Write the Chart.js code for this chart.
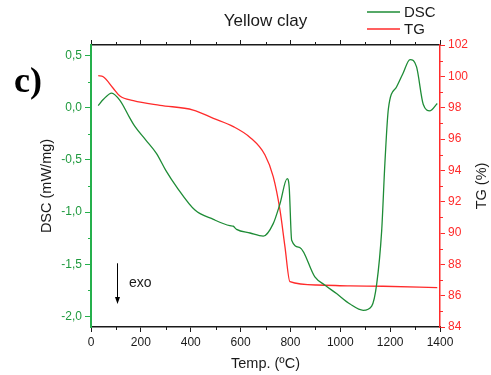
<!DOCTYPE html>
<html>
<head>
<meta charset="utf-8">
<script src="https://cdn.jsdelivr.net/npm/chart.js@4/dist/chart.umd.min.js"></script>
<style>
  html, body { margin: 0; padding: 0; background: #ffffff; }
  #wrap { width: 491px; height: 375px; position: relative; }
</style>
</head>
<body>
<div id="wrap"><canvas id="c" width="491" height="375"></canvas></div>
<script>
// ---- data ----
const chartTitle = 'Yellow clay';
const panelLabel = 'c)';
const seriesNames = ['DSC', 'TG'];

const dscTemp = [29, 50, 83, 116, 156, 176, 220, 263, 300, 344, 417, 491, 557, 570, 584, 638, 691, 731, 758, 787, 795, 805, 838, 898, 939, 985, 1039, 1092, 1126, 1146, 1166, 1179, 1193, 1226, 1250, 1280, 1306, 1333, 1360, 1389];
const dscValue = [0.02, 0.08, 0.14, 0.07, -0.10, -0.18, -0.31, -0.44, -0.60, -0.76, -0.98, -1.07, -1.13, -1.135, -1.165, -1.20, -1.23, -1.11, -0.92, -0.68, -0.76, -1.27, -1.34, -1.62, -1.70, -1.78, -1.88, -1.94, -1.90, -1.69, -1.18, -0.53, -0.01, 0.20, 0.32, 0.46, 0.39, 0.03, -0.03, 0.04];

const tgTemp = [29, 49, 89, 116, 170, 277, 410, 491, 571, 638, 698, 731, 758, 778, 798, 905, 1039, 1172, 1389];
const tgValue = [100.04, 99.97, 99.24, 98.74, 98.45, 98.15, 97.85, 97.32, 96.79, 96.10, 94.98, 93.60, 91.47, 89.13, 86.89, 86.68, 86.62, 86.60, 86.51];

const xTicks = [0, 200, 400, 600, 800, 1000, 1200, 1400];
const dscTicks = [-2.0, -1.5, -1.0, -0.5, 0.0, 0.5];
const tgTicks = [84, 86, 88, 90, 92, 94, 96, 98, 100, 102];

const xTitle = 'Temp. (ºC)';
const dscTitle = 'DSC (mW/mg)';
const tgTitle = 'TG (%)';
const exoLabel = 'exo';

// ---- styling ----
const GREEN_LINE = '#1e8c36';
const GREEN_AXIS = '#25b04c';
const GREEN_TEXT = '#1f9a3e';
const RED = '#ff2b2b';
const BLACK = '#1a1a1a';
const FONT = "'Liberation Sans', Arial, sans-serif";

Chart.defaults.font.family = FONT;

function toPts(xs, ys) { return xs.map((x, i) => ({ x: x, y: ys[i] })); }
function fmtComma(v) { return v.toFixed(1).replace('.', ','); }
function setTicks(arr) { return function (scale) { scale.ticks = arr.map(v => ({ value: v })); }; }
function mids(arr) { const m = []; for (let i = 0; i < arr.length - 1; i++) m.push((arr[i] + arr[i + 1]) / 2); return m; }

const decor = {
  id: 'decor',
  afterDraw(chart) {
    const ctx = chart.ctx;
    const { x, xTop, y, y2 } = chart.scales;
    const area = chart.chartArea;
    ctx.save();
    // minor ticks
    ctx.lineWidth = 1;
    ctx.strokeStyle = BLACK;
    mids(xTicks).forEach(v => {
      const px = Math.round(x.getPixelForValue(v)) + 0.5;
      ctx.beginPath(); ctx.moveTo(px, area.bottom); ctx.lineTo(px, area.bottom + 3); ctx.stroke();
      ctx.beginPath(); ctx.moveTo(px, area.top); ctx.lineTo(px, area.top - 3); ctx.stroke();
    });
    ctx.strokeStyle = GREEN_AXIS;
    mids(dscTicks).forEach(v => {
      const py = Math.round(y.getPixelForValue(v)) + 0.5;
      ctx.beginPath(); ctx.moveTo(area.left, py); ctx.lineTo(area.left - 3, py); ctx.stroke();
    });
    ctx.strokeStyle = RED;
    mids(tgTicks).forEach(v => {
      const py = Math.round(y2.getPixelForValue(v)) + 0.5;
      ctx.beginPath(); ctx.moveTo(area.right, py); ctx.lineTo(area.right + 3, py); ctx.stroke();
    });

    // title
    ctx.fillStyle = BLACK;
    ctx.font = '17px ' + FONT;
    ctx.textAlign = 'center';
    ctx.textBaseline = 'middle';
    ctx.fillText(chartTitle, (area.left + area.right) / 2, 21);

    // legend
    const colors = [GREEN_LINE, RED];
    ctx.font = '15px ' + FONT;
    ctx.textAlign = 'left';
    seriesNames.forEach((name, i) => {
      const ly = 12 + i * 17;
      ctx.strokeStyle = colors[i];
      ctx.lineWidth = 1.3;
      ctx.beginPath(); ctx.moveTo(367, ly); ctx.lineTo(400, ly); ctx.stroke();
      ctx.fillStyle = BLACK;
      ctx.fillText(name, 404, ly + 1);
    });

    // panel label
    ctx.font = 'bold 36px "Liberation Serif", "Times New Roman", serif';
    ctx.textAlign = 'left';
    ctx.textBaseline = 'alphabetic';
    ctx.fillStyle = '#000';
    ctx.fillText(panelLabel, 14, 92);

    // right axis title (reads bottom to top)
    ctx.save();
    ctx.translate(482, (area.top + area.bottom) / 2);
    ctx.rotate(-Math.PI / 2);
    ctx.font = '14.5px ' + FONT;
    ctx.textAlign = 'center';
    ctx.textBaseline = 'middle';
    ctx.fillStyle = BLACK;
    ctx.fillText(tgTitle, 0, 0);
    ctx.restore();

    // exo arrow
    const ax = Math.round(x.getPixelForValue(104)) + 0.5;
    const ay1 = y.getPixelForValue(-1.49);
    const ay2 = y.getPixelForValue(-1.88);
    ctx.strokeStyle = '#000';
    ctx.fillStyle = '#000';
    ctx.lineWidth = 1;
    ctx.beginPath(); ctx.moveTo(ax, ay1); ctx.lineTo(ax, ay2 - 6); ctx.stroke();
    ctx.beginPath(); ctx.moveTo(ax - 2.5, ay2 - 7); ctx.lineTo(ax + 2.5, ay2 - 7); ctx.lineTo(ax, ay2); ctx.closePath(); ctx.fill();
    ctx.font = '14px ' + FONT;
    ctx.textAlign = 'left';
    ctx.textBaseline = 'middle';
    ctx.fillStyle = BLACK;
    ctx.fillText(exoLabel, x.getPixelForValue(152), y.getPixelForValue(-1.68));
    ctx.restore();
  }
};

new Chart(document.getElementById('c'), {
  type: 'line',
  data: {
    datasets: [
      {
        label: seriesNames[0],
        data: toPts(dscTemp, dscValue),
        yAxisID: 'y',
        xAxisID: 'x',
        borderColor: GREEN_LINE,
        borderWidth: 1.3,
        pointRadius: 0,
        cubicInterpolationMode: 'monotone',
        fill: false
      },
      {
        label: seriesNames[1],
        data: toPts(tgTemp, tgValue),
        yAxisID: 'y2',
        xAxisID: 'x',
        borderColor: RED,
        borderWidth: 1.3,
        pointRadius: 0,
        cubicInterpolationMode: 'monotone',
        fill: false
      }
    ]
  },
  options: {
    responsive: false,
    animation: false,
    events: [],
    layout: { padding: { top: 40, left: 0, right: 0, bottom: 0 } },
    plugins: { legend: { display: false }, title: { display: false }, tooltip: { enabled: false } },
    scales: {
      x: {
        type: 'linear', position: 'bottom', min: 0, max: 1400,
        afterBuildTicks: setTicks(xTicks),
        afterFit: s => { s.height = 48; },
        border: { display: true, color: BLACK, width: 1.5 },
        grid: { display: true, drawOnChartArea: false, drawTicks: true, tickLength: 5, tickColor: BLACK, tickWidth: 1 },
        ticks: { color: BLACK, font: { size: 12 }, padding: 3, maxRotation: 0, autoSkip: false, callback: v => String(v) },
        title: { display: true, text: xTitle, color: BLACK, font: { size: 14.5 }, padding: { top: 0, bottom: 2 } }
      },
      xTop: {
        type: 'linear', position: 'top', min: 0, max: 1400,
        afterBuildTicks: setTicks(xTicks),
        afterFit: s => { s.height = 5; },
        border: { display: true, color: BLACK, width: 1.5 },
        grid: { display: true, drawOnChartArea: false, drawTicks: true, tickLength: 5, tickColor: BLACK, tickWidth: 1 },
        ticks: { display: false }
      },
      y: {
        type: 'linear', position: 'left', min: -2.1, max: 0.6,
        afterBuildTicks: setTicks(dscTicks),
        afterFit: s => { s.width = 91; },
        border: { display: true, color: GREEN_AXIS, width: 2 },
        grid: { display: true, drawOnChartArea: false, drawTicks: true, tickLength: 6, tickColor: GREEN_AXIS, tickWidth: 1 },
        ticks: { color: GREEN_TEXT, font: { size: 12 }, padding: 3, callback: v => fmtComma(v) },
        title: { display: true, text: dscTitle, color: BLACK, font: { size: 14.5 }, padding: { top: 38, bottom: 0 } }
      },
      y2: {
        type: 'linear', position: 'right', min: 84, max: 102,
        afterBuildTicks: setTicks(tgTicks),
        afterFit: s => { s.width = 51; },
        border: { display: true, color: RED, width: 1.5 },
        grid: { display: true, drawOnChartArea: false, drawTicks: true, tickLength: 5, tickColor: RED, tickWidth: 1 },
        ticks: { color: RED, font: { size: 12 }, padding: 3, callback: v => String(v) }
      }
    }
  },
  plugins: [decor]
});
</script>
</body>
</html>
